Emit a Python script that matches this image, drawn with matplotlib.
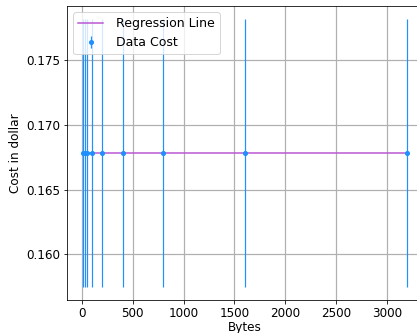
import numpy as np
import matplotlib
matplotlib.use('Agg')
import matplotlib.pyplot as plt

# Cost per message size (bytes) with error margins
sizes = [12.5, 25, 50, 100, 200, 400, 800, 1600, 3200]
costs = [0.16783, 0.16783, 0.16783, 0.16783, 0.16783, 0.16783, 0.16783, 0.16783, 0.16783]
cost_err = [0.01035, 0.01035, 0.01035, 0.01035, 0.01035, 0.01035, 0.01035, 0.01035, 0.01035]

plt.rcParams['font.size'] = 12

fig = plt.figure(figsize=(417 / 72, 333 / 72), dpi=72)
ax = fig.add_axes([0.161, 0.098, 0.854, 0.884])

# Fit a straight line through the data
slope, intercept = np.polyfit(sizes, costs, 1)
x_fit = np.array([sizes[0], sizes[-1]])
ax.plot(x_fit, slope * x_fit + intercept, color='mediumorchid', linewidth=1.5, label='Regression Line')

ax.errorbar(sizes, costs, yerr=cost_err, fmt='o', color='dodgerblue', markersize=4,
            elinewidth=1.2, label='Data Cost')

ax.set_xlabel('Bytes', labelpad=1)
ax.set_ylabel('Cost in dollar')
ax.grid(True, linewidth=1.2)
ax.legend(loc='upper left', fontsize=12.5, handletextpad=1.0)

fig.savefig('out.png', dpi=72)
